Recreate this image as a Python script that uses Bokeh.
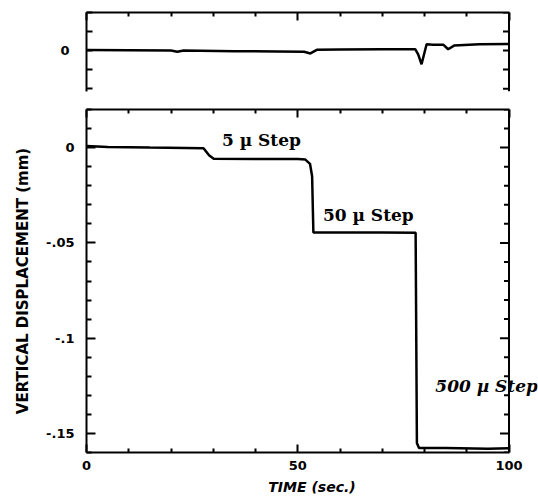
import math
from bokeh.plotting import figure
from bokeh.layouts import column
from bokeh.models import FixedTicker, LinearAxis, Range1d, CustomJSTickFormatter, ColumnDataSource, Span
from bokeh.core.properties import value
from bokeh.embed import file_html
from bokeh.resources import INLINE

# ---- data ----
time_main = [0, 5, 15, 27.7, 29.0, 30.1, 40, 50, 51.8, 52.9, 53.4, 53.6, 53.7,
             60, 70, 77.9, 78.2, 78.7, 85, 95, 100]
disp_main = [0.0008, 0.0003, 0.0, -0.0003, -0.004, -0.0058, -0.006, -0.006,
             -0.0063, -0.0085, -0.015, -0.035, -0.0445,
             -0.0445, -0.0445, -0.0447, -0.155, -0.1576, -0.1577, -0.158, -0.1578]

time_resid = [0, 10, 20, 21.5, 23, 35, 45, 51.5, 53, 54.5, 60, 70, 77.8, 78.5,
              79.3, 80.5, 82, 84.5, 85.6, 87, 93, 100]
disp_resid = [0.0003, 0.0002, 0.0, -0.0006, 0.0, -0.0003, -0.0005, -0.0006,
              -0.0015, 0.0004, 0.0006, 0.0007, 0.0007, -0.002,
              -0.0072, 0.0033, 0.0031, 0.003, 0.0007, 0.0026, 0.0033, 0.0034]

step_text = ["5 \u00b5 Step", "50 \u00b5 Step"]
step_time = [41.4, 66.7]
step_disp = [0.0042, -0.0353]
big_step_text = ["500 \u00b5 Step"]
big_step_time = [94.7]
big_step_disp = [-0.1253]

x_min, x_max = 0, 100
x_major = [0, 50, 100]
x_minor = [10, 20, 30, 40, 60, 70, 80, 90]
y_major = [0, -0.05, -0.1, -0.15]
y_major_labels = ["0", "-.05", "-.1", "-.15"]
y_minor = [0.02, 0.01, -0.01, -0.02, -0.03, -0.04, -0.06, -0.07, -0.08, -0.09,
           -0.11, -0.12, -0.13, -0.14, -0.16]
resid_major = [0]
resid_minor = [0.02, 0.01, -0.01, -0.02]

FONT = "DejaVu Sans"
SERIF = "DejaVu Serif"

# geometry: x = 0..100 spans 422.5 px; the frame runs on past x=100 so the
# "500 u Step" note can overhang the right border, as in the original
W = 538
FRAME_LEFT = 86
SPAN_PX = 422.5
FRAME_W = W - FRAME_LEFT - 1
x_end = x_max * FRAME_W / SPAN_PX


def style_axis(ax, major_in, minor_in, labels=True):
    ax.axis_line_width = 2
    ax.axis_line_color = "black"
    ax.major_tick_in = major_in
    ax.major_tick_out = 0
    ax.minor_tick_in = minor_in
    ax.minor_tick_out = 0
    ax.major_tick_line_width = 2
    ax.minor_tick_line_width = 2
    ax.major_tick_line_color = "black"
    ax.minor_tick_line_color = "black"
    ax.axis_label_text_color = "black"
    if labels:
        ax.major_label_text_font = FONT
        ax.major_label_text_font_style = "bold"
        ax.major_label_text_font_size = "13px"
        ax.major_label_text_color = "black"
    else:
        ax.formatter = CustomJSTickFormatter(code="return ''")
        ax.major_label_text_font_size = "1px"
        ax.major_label_standoff = 0


def right_border(p, major, minor, major_len, minor_len):
    p.add_layout(Span(location=x_max, dimension="height", line_color="black", line_width=2))
    p.ray(x=[x_max] * len(minor), y=minor, length=minor_len, length_units="screen",
          angle=math.pi, line_color="black", line_width=2)
    p.ray(x=[x_max] * len(major), y=major, length=major_len, length_units="screen",
          angle=math.pi, line_color="black", line_width=2)


# ---- top (residual) panel ----
top = figure(width=W, height=100, x_range=Range1d(x_min, x_end), y_range=Range1d(-0.0215, 0.02),
             x_axis_location="above", output_backend="svg", toolbar_location=None,
             min_border_left=FRAME_LEFT, min_border_right=1, min_border_top=12, min_border_bottom=9)
top.outline_line_color = None
top.xgrid.visible = False
top.ygrid.visible = False

top.xaxis.ticker = FixedTicker(ticks=x_major, minor_ticks=x_minor)
style_axis(top.xaxis[0], 8, 4, labels=False)
top.xaxis.bounds = (x_min, x_max)
top.yaxis.ticker = FixedTicker(ticks=resid_major, minor_ticks=resid_minor)
style_axis(top.yaxis[0], 6, 6, labels=True)
top.yaxis.major_label_standoff = 17
right_border(top, resid_major, resid_minor, 6, 6)

top.line(time_resid, disp_resid, line_color="black", line_width=2.5)

# ---- main panel ----
main = figure(width=W, height=402, x_range=Range1d(x_min, x_end), y_range=Range1d(-0.16, 0.02),
              output_backend="svg", toolbar_location=None,
              min_border_left=FRAME_LEFT, min_border_right=1, min_border_top=9,
              min_border_bottom=50)
main.outline_line_color = None
main.xgrid.visible = False
main.ygrid.visible = False

main.xaxis.ticker = FixedTicker(ticks=x_major, minor_ticks=x_minor)
style_axis(main.xaxis[0], 8, 4, labels=True)
main.xaxis.bounds = (x_min, x_max)
main.xaxis.major_label_standoff = 8
main.xaxis.axis_label = "TIME (sec.)"
main.xaxis.axis_label_text_font = FONT
main.xaxis.axis_label_text_font_style = "bold italic"
main.xaxis.axis_label_text_font_size = "14px"
main.xaxis.axis_label_standoff = 6

main.yaxis.ticker = FixedTicker(ticks=y_major, minor_ticks=y_minor)
style_axis(main.yaxis[0], 9, 5, labels=True)
main.yaxis.major_label_overrides = {t: s for t, s in zip(y_major, y_major_labels)}
main.yaxis.major_label_standoff = 12
main.yaxis.axis_label = "VERTICAL DISPLACEMENT (mm)"
main.yaxis.axis_label_text_font = FONT
main.yaxis.axis_label_text_font_style = "bold"
main.yaxis.axis_label_text_font_size = "15px"
main.yaxis.axis_label_standoff = 11

a_main = LinearAxis(ticker=FixedTicker(ticks=x_major, minor_ticks=x_minor), bounds=(x_min, x_max))
style_axis(a_main, 8, 4, labels=False)
main.add_layout(a_main, "above")
right_border(main, y_major, y_minor, 9, 5)

main.line(time_main, disp_main, line_color="black", line_width=2.5)

src = ColumnDataSource(dict(x=step_time, y=step_disp, t=step_text))
main.text(x="x", y="y", text="t", source=src, text_font=value(SERIF), text_font_style="bold",
          text_font_size="17px", text_align="center", text_baseline="middle", text_color="black")
src2 = ColumnDataSource(dict(x=big_step_time, y=big_step_disp, t=big_step_text))
main.text(x="x", y="y", text="t", source=src2, text_font=value(SERIF), text_font_style="bold italic",
          text_font_size="17px", text_align="center", text_baseline="middle", text_color="black")

layout = column(top, main, spacing=0)

with open("out.html", "w") as f:
    f.write(file_html(layout, INLINE))
